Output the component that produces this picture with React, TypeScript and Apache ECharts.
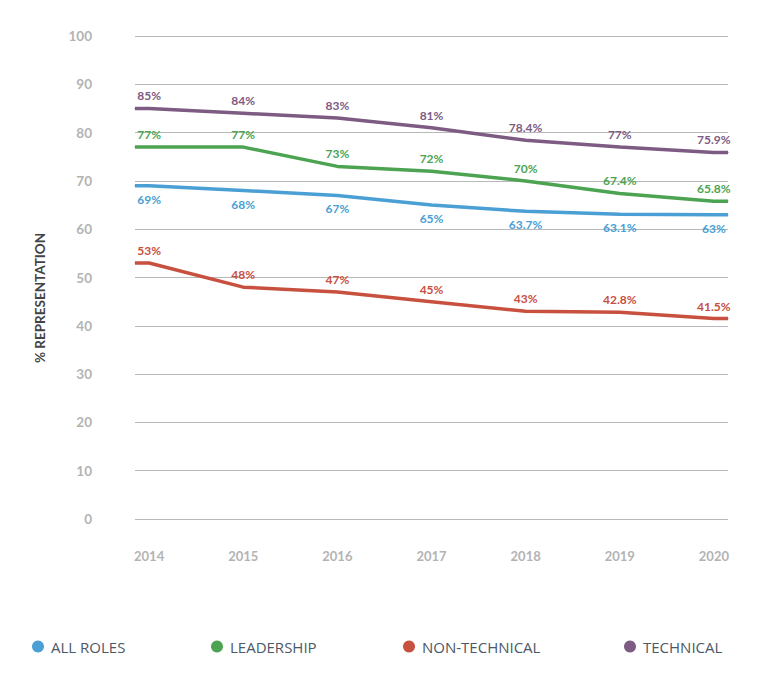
import React, { useEffect, useRef } from "react";
import * as echarts from "echarts";

const years = [2014, 2015, 2016, 2017, 2018, 2019, 2020];
const allRoles = [69, 68, 67, 65, 63.7, 63.1, 63];
const leadership = [77, 77, 73, 72, 70, 67.4, 65.8];
const nonTechnical = [53, 48, 47, 45, 43, 42.8, 41.5];
const technical = [85, 84, 83, 81, 78.4, 77, 75.9];
const yTicks = [0, 10, 20, 30, 40, 50, 60, 70, 80, 90, 100];
const yAxisTitle = "% REPRESENTATION";

const seriesDefs = [
  { name: "ALL ROLES", values: allRoles, color: "#4a9fd5", pos: "bottom" },
  { name: "LEADERSHIP", values: leadership, color: "#4ca452", pos: "top" },
  { name: "NON-TECHNICAL", values: nonTechnical, color: "#c8503f", pos: "top" },
  { name: "TECHNICAL", values: technical, color: "#7d5b82", pos: "top" },
];

const X_MIN = 2013.85;
const X_MAX = 2020.15;
const FONT = "Lato, 'Open Sans', sans-serif";
const LEGEND_FONT = "'Open Sans', Lato, sans-serif";

export default function App() {
  const ref = useRef<HTMLDivElement>(null);
  useEffect(() => {
    document.body.style.margin = "0";
    if (!ref.current) return;
    const chart = echarts.init(ref.current, undefined, { renderer: "svg" });
    const legendLefts = [27, 206, 398, 619];
    const option: any = {
      animation: false,
      backgroundColor: "#ffffff",
      textStyle: { fontFamily: FONT },
      grid: { left: 135, right: 30, top: 36, bottom: 155 },
      graphic: [
        {
          type: "text",
          x: 40,
          y: 298,
          rotation: Math.PI / 2,
          style: {
            text: yAxisTitle,
            fill: "#444444",
            fontWeight: "bold",
            fontSize: 13.5,
            fontFamily: FONT,
            align: "center",
            verticalAlign: "middle",
          },
        },
      ],
      legend: seriesDefs.map((s, i) => ({
        data: [s.name],
        left: legendLefts[i],
        top: 634,
        icon: "circle",
        itemWidth: 12,
        itemHeight: 14,
        selectedMode: false,
        textStyle: {
          color: "#4b5866",
          fontSize: 15,
          fontFamily: LEGEND_FONT,
          padding: [0, 0, 0, 2],
        },
      })),
      xAxis: {
        type: "value",
        min: X_MIN,
        max: X_MAX,
        axisLine: { show: false },
        axisTick: { show: false },
        splitLine: { show: false },
        axisLabel: {
          customValues: years,
          formatter: (v: number) => String(Math.round(v)),
          color: "#b3b3b3",
          fontWeight: "bold",
          fontSize: 13,
          margin: 30,
          fontFamily: FONT,
        },
      },
      yAxis: {
        type: "value",
        min: yTicks[0],
        max: yTicks[yTicks.length - 1],
        interval: 10,
        axisLine: { show: false },
        axisTick: { show: false },
        axisLabel: {
          color: "#b3b3b3",
          fontWeight: "bold",
          fontSize: 13.5,
          margin: 43,
          fontFamily: FONT,
        },
        splitLine: { lineStyle: { color: "#b8b8b8", width: 1 } },
      },
      series: seriesDefs.map((s) => {
        const pts: any[] = years.map((y, i) => ({
          value: [y, s.values[i]],
        }));
        pts.unshift({ value: [X_MIN, s.values[0]], label: { show: false } });
        pts.push({
          value: [X_MAX, s.values[s.values.length - 1]],
          label: { show: false },
        });
        return {
          name: s.name,
          type: "line",
          data: pts,
          color: s.color,
          symbol: "circle",
          symbolSize: 1,
          showSymbol: true,
          showAllSymbol: true,
          itemStyle: { color: s.color },
          lineStyle: { width: 3.5, color: s.color },
          labelLayout: { hideOverlap: false },
          label: {
            show: true,
            position: s.pos,
            distance: s.pos === "top" ? 6 : 7,
            color: s.color,
            fontWeight: "bold",
            fontSize: 12,
            fontFamily: FONT,
            formatter: (p: any) => p.value[1] + "%",
          },
        };
      }),
    };
    chart.setOption(option);
    return () => chart.dispose();
  }, []);
  return <div ref={ref} style={{ width: 758, height: 674 }} />;
}
